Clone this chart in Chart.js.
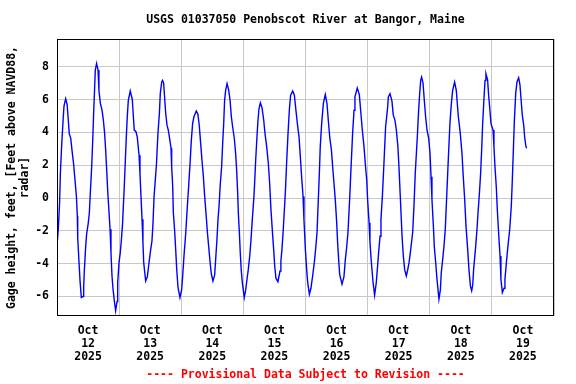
<!DOCTYPE html>
<html>
<head>
<meta charset="utf-8">
<script src="https://cdn.jsdelivr.net/npm/chart.js@4.4.1/dist/chart.umd.min.js"></script>
<style>
  html, body { margin: 0; padding: 0; background: #fff; }
  #wrap { width: 576px; height: 384px; }
</style>
</head>
<body>
<div id="wrap"><canvas id="c" width="576" height="384"></canvas></div>
<script>
// hours since Oct 12 2025 00:00, one line per half tide cycle
const hours = [
  0.0, 0.5, 1.0, 1.3, 1.8, 2.3, 2.7, 3.35,
  3.9, 4.25, 4.75, 5.3, 5.8, 6.4, 6.95, 7.5, 7.85, 8.0, 8.5, 8.9, 9.4,
  10.05, 10.3, 10.55, 11.1, 11.45, 12.1, 12.5, 12.9, 13.4, 13.8, 14.15, 14.55, 14.8, 15.3,
  15.85, 16.2, 16.75, 17.4, 17.9, 18.4, 18.8, 19.2, 19.6, 19.95, 20.5, 20.85, 21.25, 21.65, 22.15, 22.65,
  23.2, 23.45, 23.95, 24.45, 24.85, 25.35, 25.6, 26.0, 26.4, 26.8, 27.15, 27.55, 28.3,
  29.1, 29.5, 29.85, 30.5, 31.0, 31.7, 32.05, 32.45, 32.85, 33.2, 33.5, 34.25,
  34.9, 35.55, 36.2, 36.7, 37.1, 37.5, 38.4, 39.0, 39.55, 39.9, 40.45, 40.8,
  41.2, 41.6, 42.0, 42.5, 43.0, 43.5, 44.05, 44.3, 44.7, 44.95, 45.45, 45.85, 46.25, 46.75, 47.5,
  48.15, 48.55, 49.05, 49.7, 50.2, 50.85, 51.4, 51.9, 52.4, 52.9, 53.8,
  54.45, 55.0, 55.5, 56.0, 56.55, 57.05, 57.55, 58.1, 58.7, 59.1, 59.6, 60.25,
  60.9, 61.3, 61.8, 62.2, 62.6, 63.1, 63.6, 64.0, 64.4, 64.75, 65.15, 65.7,
  66.3, 66.85, 67.35, 67.85, 68.5, 69.0, 69.4, 69.8, 70.05, 70.45, 70.8, 71.2, 71.6, 72.35,
  72.9, 73.4, 73.9, 74.45, 74.95, 75.45, 76.0, 76.35, 76.75, 77.25, 77.65, 78.05, 78.55,
  79.2, 79.85, 80.35, 81.0, 81.65, 82.15, 82.65, 83.2, 83.7, 84.1, 84.6, 85.35,
  86.15, 86.5, 86.9, 87.3, 87.7, 88.2, 88.7, 89.25, 89.75, 90.25, 91.05,
  91.7, 92.3, 92.85, 93.5, 94.0, 94.5, 95.05, 95.4, 95.95, 96.45, 96.85, 97.5,
  98.1, 98.75, 99.4, 99.9, 100.45, 100.95, 101.35, 101.7, 102.25, 102.9, 103.65,
  104.3, 104.8, 105.35, 106.0, 106.5, 107.0, 107.5, 108.05, 108.4, 108.8, 109.2, 110.1,
  110.85, 111.4, 111.9, 112.4, 113.05, 113.55, 114.2, 114.75, 115.1, 116.0,
  116.8, 117.3, 117.95, 118.6, 119.1, 119.65, 120.0, 120.55, 120.9, 121.45, 122.1, 122.7,
  123.35, 123.75, 124.25, 124.8, 125.15, 125.7, 126.3, 126.95, 127.75, 128.0, 128.65,
  129.4, 129.9, 130.55, 131.1, 131.7, 132.1, 132.5, 132.9, 133.3, 133.8, 134.3, 134.95,
  135.45, 136.0, 136.5, 137.4, 137.9, 138.4, 139.2, 139.7, 140.2, 140.5, 140.85,
  141.4, 141.9, 142.4, 142.95, 143.6, 144.1, 144.5, 144.85, 145.4, 145.75, 146.3, 146.8, 147.55,
  148.1, 148.45, 149.0, 149.5, 150.0, 150.55, 151.15, 151.8, 152.35, 152.85, 153.6,
  154.25, 155.05, 155.8, 156.45, 156.95, 157.5, 158.0, 158.65, 159.15, 159.7, 160.2,
  160.6, 160.95, 161.75, 162.25, 162.65, 163.15, 163.65, 164.05, 164.45, 164.95, 165.35, 165.7,
  166.35, 166.75, 167.25, 167.65, 168.45, 168.8, 169.2, 169.7, 170.1, 170.6, 171.15, 171.5, 172.05,
  172.7, 173.05, 173.6, 174.2, 174.9, 175.5, 175.9, 176.3, 176.7, 177.2, 177.7, 178.35,
  178.85, 179.25, 179.75, 180.3, 180.65, 181.15, 181.45
];

// gage height, feet above NAVD88
const gage = [
  -2.9, -1.9, -0.3, 1.5, 3.2, 4.6, 5.6, 6.05,
  5.7, 5.0, 3.9, 3.65, 2.9, 2.1, 1.1, 0.1, -1.1, -2.4, -3.9, -5.05, -6.06,
  -6.0, -5.45, -4.45, -2.9, -2.2, -1.5, -0.9, 0.4, 1.9, 3.5, 5.15, 6.76, 7.8, 8.2,
  7.8, 6.56, 5.76, 5.35, 4.75, 3.94, 2.93, 1.7, 0.4, -0.5, -1.9, -3.33, -4.75, -5.56, -6.27, -6.87,
  -6.3, -5.15, -3.94, -3.33, -2.6, -1.5, -0.6, 0.7, 2.3, 3.8, 4.95, 5.95, 6.52,
  6.0, 4.95, 4.14, 4.04, 3.73, 2.6, 1.5, 0.1, -1.3, -2.7, -3.94, -5.05,
  -4.8, -3.94, -3.13, -2.6, -1.5, 0.1, 2.0, 3.94, 5.15, 6.36, 7.07, 7.17,
  7.0, 6.06, 5.15, 4.44, 4.14, 3.64, 3.03, 1.9, 0.7, -0.9, -2.0, -3.13, -4.35, -5.45, -6.06,
  -5.6, -4.75, -3.54, -2.22, -0.9, 0.7, 2.1, 3.53, 4.55, 4.95, 5.3,
  5.1, 4.34, 3.33, 2.3, 1.3, 0.1, -0.9, -2.1, -3.13, -3.84, -4.6, -5.05,
  -4.7, -3.74, -2.5, -1.3, -0.5, 0.9, 1.9, 3.3, 4.55, 5.96, 6.56, 6.97,
  6.6, 5.96, 4.95, 4.34, 3.64, 2.73, 1.7, 0.3, -0.9, -2.1, -3.33, -4.45, -5.15, -6.06,
  -5.6, -4.95, -4.35, -3.54, -2.53, -1.3, -0.1, 0.9, 2.3, 3.73, 4.75, 5.45, 5.8,
  5.5, 4.75, 3.94, 3.13, 2.1, 0.9, -0.7, -2.0, -3.13, -4.14, -4.9, -5.1,
  -4.45, -3.84, -3.13, -2.2, -1.1, 0.3, 2.1, 3.94, 5.35, 6.26, 6.52,
  6.26, 5.35, 4.55, 3.73, 2.52, 1.3, 0.1, -1.3, -3.13, -4.35, -5.15, -5.86,
  -5.5, -4.75, -3.94, -3.13, -2.1, -0.1, 1.5, 3.13, 4.55, 5.76, 6.3,
  5.76, 4.75, 3.73, 2.93, 1.9, 0.9, -0.1, -1.5, -2.7, -3.74, -4.65, -5.25,
  -4.8, -3.74, -3.0, -2.1, -0.1, 1.7, 3.94, 5.35, 6.16, 6.7,
  6.3, 5.35, 4.14, 3.13, 2.1, 1.1, -0.1, -1.5, -2.7, -3.94, -5.15, -5.92,
  -5.15, -4.35, -3.33, -2.33, -1.3, 0.1, 2.1, 4.34, 5.55, 6.16, 6.36,
  5.9, 5.05, 4.75, 4.14, 3.13, 1.9, 0.5, -0.9, -2.33, -3.54, -4.35, -4.75,
  -4.4, -3.94, -3.33, -2.1, -0.5, 1.5, 3.73, 5.35, 6.56, 7.17, 7.37,
  7.0, 5.96, 4.95, 4.14, 3.64, 2.73, 1.3, -0.1, -1.7, -2.93, -3.94, -4.95, -6.16,
  -5.6, -4.55, -3.74, -2.93, -1.9, 0.1, 2.3, 4.55, 5.76, 6.56, 7.07,
  6.56, 4.95, 3.94, 2.73, 1.3, -0.1, -1.7, -3.13, -4.35, -5.35, -5.65,
  -5.3, -4.35, -2.93, -1.9, -0.9, 0.2, 1.5, 2.93, 4.55, 6.06, 7.17, 7.57,
  7.2, 6.26, 5.35, 4.55, 4.14, 3.13, 1.9, 0.7, -0.7, -2.1, -3.54, -4.95, -5.76,
  -5.5, -4.95, -3.94, -2.93, -1.9, -0.5, 1.1, 2.93, 4.75, 6.36, 7.07, 7.33,
  6.9, 6.06, 5.05, 4.44, 3.73, 3.13, 3.03
];

// x axis: day labels sit at noon, grid lines at midnight
const dayTicks = [12, 36, 60, 84, 108, 132, 156, 180];
const dayLabels = [
  ['Oct', '12', '2025'], ['Oct', '13', '2025'], ['Oct', '14', '2025'], ['Oct', '15', '2025'],
  ['Oct', '16', '2025'], ['Oct', '17', '2025'], ['Oct', '18', '2025'], ['Oct', '19', '2025']
];
const midnightTicks = [0, 24, 48, 72, 96, 120, 144, 168, 192];
const yTicks = [-6, -4, -2, 0, 2, 4, 6, 8];

const FONT = "'DejaVu Sans Mono', 'Liberation Mono', monospace";
const GRID = '#c8c8c8';

// 图框：四边黑线
const frame = {
  id: 'frame',
  afterDraw(chart) {
    const { ctx, chartArea: a } = chart;
    ctx.save();
    ctx.strokeStyle = '#000';
    ctx.lineWidth = 1;
    ctx.strokeRect(Math.round(a.left) + 0.5, Math.round(a.top) + 0.5,
      Math.round(a.right - a.left) - 1, Math.round(a.bottom - a.top) - 1);
    ctx.restore();
  }
};

const xTickValues = midnightTicks.concat(dayTicks).sort((a, b) => a - b);

new Chart(document.getElementById('c'), {
  type: 'line',
  data: {
    datasets: [{
      data: hours.map((h, i) => ({ x: h, y: gage[i] })),
      borderColor: '#0000ff',
      borderWidth: 1.4,
      pointRadius: 0,
      tension: 0,
      fill: false
    }]
  },
  options: {
    responsive: false,
    animation: false,
    layout: { padding: { left: 0, right: 22, top: 0, bottom: 0 } },
    plugins: {
      legend: { display: false },
      tooltip: { enabled: false },
      title: {
        display: true,
        fullSize: false,
        text: 'USGS 01037050 Penobscot River at Bangor, Maine',
        color: '#000',
        font: { family: FONT, size: 11.5, weight: 'bold', lineHeight: 1.2 },
        padding: { top: 13, bottom: 12 }
      },
      subtitle: {
        display: true,
        fullSize: false,
        position: 'bottom',
        text: '---- Provisional Data Subject to Revision ----',
        color: '#ff0000',
        font: { family: FONT, size: 11.5, weight: 'bold', lineHeight: 1.2 },
        padding: { top: 4, bottom: 2 }
      }
    },
    scales: {
      x: {
        type: 'linear',
        min: 0,
        max: 192,
        afterBuildTicks: (scale) => { scale.ticks = xTickValues.map(v => ({ value: v })); },
        afterFit: (scale) => { scale.height = 48; },
        grid: {
          drawTicks: false,
          lineWidth: 1,
          color: (ctx) => (ctx.tick && ctx.tick.value % 24 === 0) ? GRID : 'rgba(0,0,0,0)'
        },
        border: { display: false },
        ticks: {
          autoSkip: false,
          maxRotation: 0,
          padding: 8,
          color: '#000',
          font: { family: FONT, size: 11.5, weight: 'bold', lineHeight: 1.13 },
          callback: (v) => {
            const i = dayTicks.indexOf(v);
            return i >= 0 ? dayLabels[i] : '';
          }
        }
      },
      y: {
        min: -7.2,
        max: 9.7,
        afterBuildTicks: (scale) => { scale.ticks = yTicks.map(v => ({ value: v })); },
        afterFit: (scale) => { scale.width = 57; },
        grid: { drawTicks: false, color: GRID, lineWidth: 1 },
        border: { display: false },
        ticks: {
          padding: 8,
          color: '#000',
          font: { family: FONT, size: 11.5, weight: 'bold' }
        },
        title: {
          display: true,
          text: ['Gage height, feet, [Feet above NAVD88,', 'radar]'],
          color: '#000',
          font: { family: FONT, size: 11.5, weight: 'bold', lineHeight: 1.1 },
          padding: { top: 6, bottom: 0 }
        }
      }
    }
  },
  plugins: [frame]
});
</script>
</body>
</html>
